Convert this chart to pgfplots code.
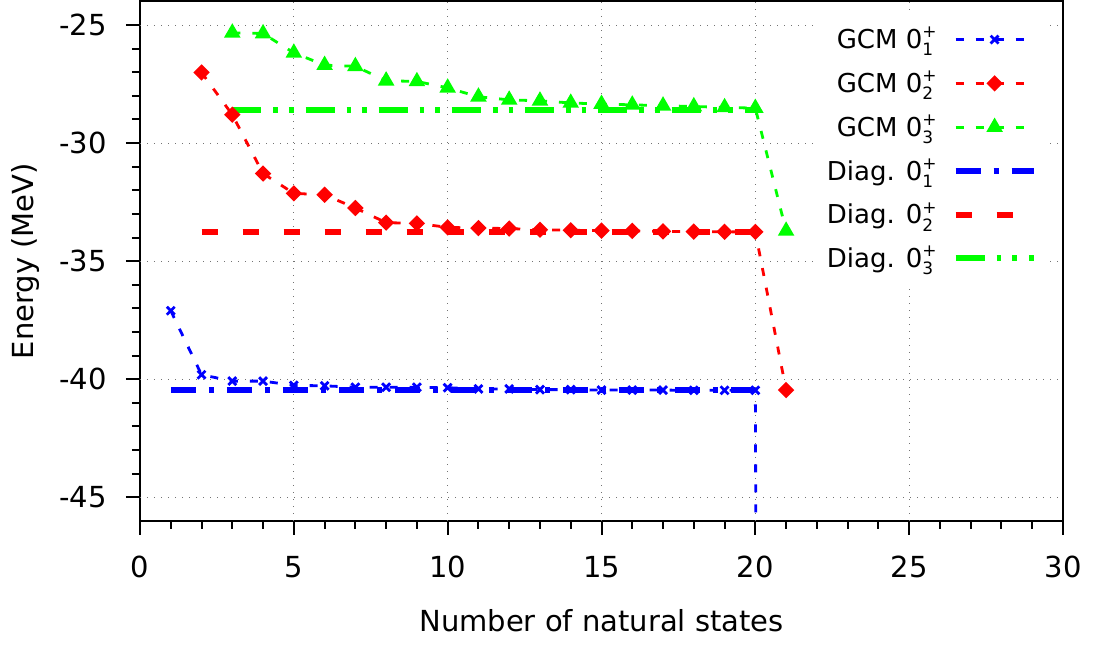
\documentclass[border=0pt]{standalone}
\usepackage{fontspec}
\setmainfont{DejaVu Sans}
\usepackage{pgfplots}
\pgfplotsset{compat=1.18}
\usepackage{pgfplotstable}

% state label 0 with stacked sub- and superscript in the text font
\newcommand{\st}[1]{0\rlap{\raisebox{-0.27em}{\fontsize{8.5}{9}\selectfont #1}}\raisebox{0.42em}{\fontsize{8.5}{9}\selectfont +}}

% GCM energies versus number of natural states
\pgfplotstableread{
n E
1 -37.10
2 -39.81
3 -40.08
4 -40.08
5 -40.26
6 -40.28
7 -40.34
8 -40.34
9 -40.34
10 -40.36
11 -40.41
12 -40.41
13 -40.44
14 -40.44
15 -40.46
16 -40.46
17 -40.46
18 -40.47
19 -40.47
20 -40.47
21 -400
}\gcmone
\pgfplotstableread{
n E
2 -27.01
3 -28.80
4 -31.29
5 -32.13
6 -32.19
7 -32.75
8 -33.37
9 -33.40
10 -33.57
11 -33.60
12 -33.62
13 -33.67
14 -33.69
15 -33.71
16 -33.72
17 -33.74
18 -33.75
19 -33.76
20 -33.76
21 -40.46
}\gcmtwo
\pgfplotstableread{
n E
3 -25.33
4 -25.36
5 -26.18
6 -26.70
7 -26.75
8 -27.36
9 -27.39
10 -27.66
11 -28.04
12 -28.17
13 -28.21
14 -28.30
15 -28.35
16 -28.38
17 -28.42
18 -28.45
19 -28.49
20 -28.52
21 -33.72
}\gcmthree
% exact diagonalisation
\pgfplotstableread{
n E
1 -40.46
20 -40.46
}\diagone
\pgfplotstableread{
n E
2 -33.77
20 -33.77
}\diagtwo
\pgfplotstableread{
n E
3 -28.59
20 -28.59
}\diagthree

\tikzset{gridline/.style={black!55, line width=0.5pt, dash pattern=on 0.5pt off 3pt}}

\begin{document}
\begin{tikzpicture}
\begin{axis}[
  name=ax,
  scale only axis,
  width=461.5pt, height=259.75pt,
  xmin=0, xmax=30, ymin=-46, ymax=-24,
  xtick={0,5,...,30}, ytick={-45,-40,...,-25},
  minor x tick num=4, minor y tick num=4,
  tick align=outside, tick pos=left,
  major tick length=7pt, minor tick length=4pt,
  major tick style={black, line width=1pt},
  minor tick style={black, line width=1pt},
  axis line style={line width=1pt},
  every outer x axis line/.append style={line width=1pt},
  every outer y axis line/.append style={line width=1pt},
  /pgf/number format/assume math mode=true,
  ticklabel style={font=\fontsize{14.5}{17}\selectfont},
  xticklabel style={anchor=north, inner sep=0pt, yshift=-10.5pt},
  yticklabel style={anchor=east, inner sep=0pt, xshift=-9.5pt},
  label style={font=\fontsize{14.5}{17}\selectfont},
  xlabel={Number of natural states},
  ylabel={Energy (MeV)},
  xlabel style={at={(axis description cs:0.5,-0.2131)}, anchor=base},
  ylabel style={at={(axis description cs:-0.1159,0.5)}, anchor=base},
  legend style={at={(rel axis cs:0.9805,0.974)}, anchor=north east,
    draw=none, fill=white, inner xsep=4pt, inner ysep=4pt,
    font=\fontsize{13}{15}\selectfont, row sep=5.6pt,
    /tikz/every odd column/.append style={column sep=6pt}},
  legend cell align=right,
  legend plot pos=right,
  legend image code/.code={\draw[mark repeat=2,mark phase=2,#1]
    plot coordinates {(0pt,0pt) (19.5pt,0pt) (39pt,0pt)};},
]
% dotted grid at the major ticks, behind the curves
\pgfplotsinvokeforeach{5,10,...,25}{\draw[gridline] (axis cs:#1,-46) -- (axis cs:#1,-24);}
\pgfplotsinvokeforeach{-45,-40,...,-25}{\draw[gridline] (axis cs:0,#1) -- (axis cs:30,#1);}

\addplot[blue, line width=1.4pt, dash pattern=on 4pt off 6pt,
  mark=x, mark size=2.8pt, mark options={solid, line width=1.4pt}] table {\gcmone};
\addlegendentry{GCM \st{1}}
\addplot[red, line width=1.4pt, dash pattern=on 4pt off 6pt,
  mark=square*, mark size=2.2pt, mark options={solid, rotate=45}] table {\gcmtwo};
\addlegendentry{GCM \st{2}}
\addplot[green, line width=1.4pt, dash pattern=on 4pt off 6pt,
  mark=triangle*, mark size=3.4pt, mark options={solid}] table {\gcmthree};
\addlegendentry{GCM \st{3}}
\addplot[blue, line width=3pt, dash pattern=on 12.5pt off 6.5pt on 2.5pt off 6.5pt] table {\diagone};
\addlegendentry{Diag. \st{1}}
\addplot[red, line width=3pt, dash pattern=on 8pt off 12.5pt] table {\diagtwo};
\addlegendentry{Diag. \st{2}}
\addplot[green, line width=3pt, dash pattern=on 14.5pt off 6pt on 2.3pt off 5.5pt on 2.3pt off 6pt] table {\diagthree};
\addlegendentry{Diag. \st{3}}
\end{axis}
\pgfresetboundingbox
\useasboundingbox ([xshift=-70pt,yshift=-61.5pt]ax.south west) rectangle ([xshift=16.5pt,yshift=0.75pt]ax.north east);
\end{tikzpicture}
\end{document}
